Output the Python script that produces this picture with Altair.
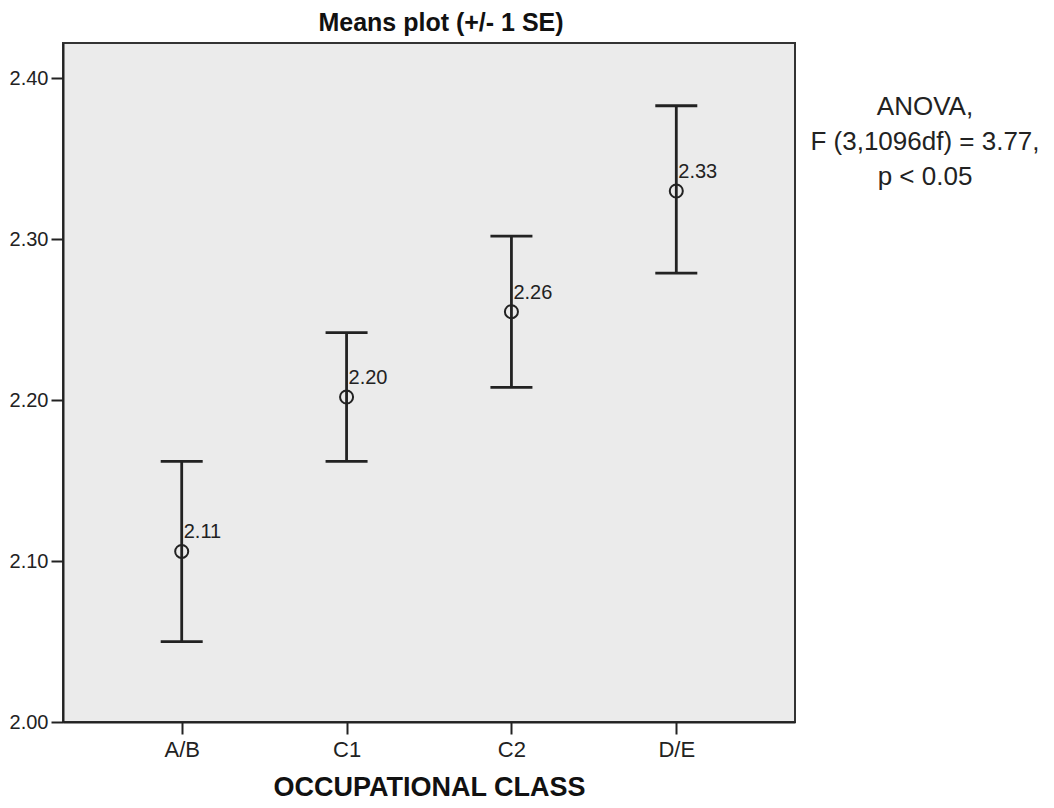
import altair as alt
import pandas as pd

# --- data ---
classes = ["A/B", "C1", "C2", "D/E"]
means = [2.106, 2.202, 2.255, 2.330]
lower = [2.050, 2.162, 2.208, 2.279]
upper = [2.162, 2.242, 2.302, 2.383]
mean_labels = ["2.11", "2.20", "2.26", "2.33"]
y_ticks = [2.00, 2.10, 2.20, 2.30, 2.40]
note_lines = ["ANOVA,", "F (3,1096df) = 3.77,", "p < 0.05"]
title_text = "Means plot (+/- 1 SE)"

df = pd.DataFrame({
    "cls": classes,
    "mean": means,
    "lo": lower,
    "hi": upper,
    "lab": mean_labels,
})
note_df = pd.DataFrame({"note": ["\n".join(note_lines)]})
title_df = pd.DataFrame({"t": [title_text]})

FONT = "Liberation Sans"
INK = "#222222"

x = alt.X("cls:N", sort=classes, scale=alt.Scale(type="point", padding=0.72),
          axis=alt.Axis(title="OCCUPATIONAL CLASS", labelAngle=0))
yscale = alt.Scale(domain=[2.0, 2.422], nice=False, zero=False)
y_axis = alt.Axis(values=y_ticks, format=".2f", title=None)

base = alt.Chart(df)

whisker = base.mark_rule(color=INK, strokeWidth=2.8).encode(
    x=x,
    y=alt.Y("lo:Q", scale=yscale, axis=y_axis),
    y2="hi:Q",
)
cap_lo = base.mark_tick(orient="horizontal", size=42, thickness=2.8, color=INK,
                        opacity=1).encode(x=x, y=alt.Y("lo:Q", scale=yscale))
cap_hi = base.mark_tick(orient="horizontal", size=42, thickness=2.8, color=INK,
                        opacity=1).encode(x=x, y=alt.Y("hi:Q", scale=yscale))
pts = base.mark_point(shape="circle", filled=False, size=170, strokeWidth=2,
                      color=INK, opacity=1).encode(
    x=x, y=alt.Y("mean:Q", scale=yscale)
)
labs = base.mark_text(align="left", baseline="alphabetic", dx=2, dy=-13,
                      fontSize=20, font=FONT, color=INK).encode(
    x=x, y=alt.Y("mean:Q", scale=yscale), text="lab:N"
)
note = alt.Chart(note_df).mark_text(
    align="center", baseline="alphabetic", fontSize=26, lineHeight=35,
    lineBreak="\n", font=FONT, color=INK
).encode(x=alt.value(862), y=alt.value(72), text="note:N")
title = alt.Chart(title_df).mark_text(
    align="center", baseline="alphabetic", fontSize=25, fontWeight="bold",
    font=FONT, color="#111111"
).encode(x=alt.value(378), y=alt.value(-12), text="t:N")

chart = (
    alt.layer(whisker, cap_lo, cap_hi, pts, labs, note, title)
    .properties(
        width=732,
        height=679,
        autosize=alt.AutoSizeParams(type="none"),
        padding={"left": 55, "top": 35, "right": 251, "bottom": 78},
        background="white",
    )
    .configure_view(fill="#ebebeb", stroke="#333333", strokeWidth=2)
    .configure_axis(
        grid=False, domainColor=INK, domainWidth=2, tickColor=INK, tickWidth=2,
        tickSize=12, labelFont=FONT, labelFontSize=22, labelColor=INK,
        titleFont=FONT, titleColor="#111111",
    )
    .configure_axisY(labelPadding=3, labelFontSize=20)
    .configure_axisX(labelPadding=5, titleFontSize=27, titleFontWeight="bold",
                     titleY=73, titleBaseline="alphabetic")
)

chart.save("out.html", embed_options={"renderer": "svg", "actions": False})
